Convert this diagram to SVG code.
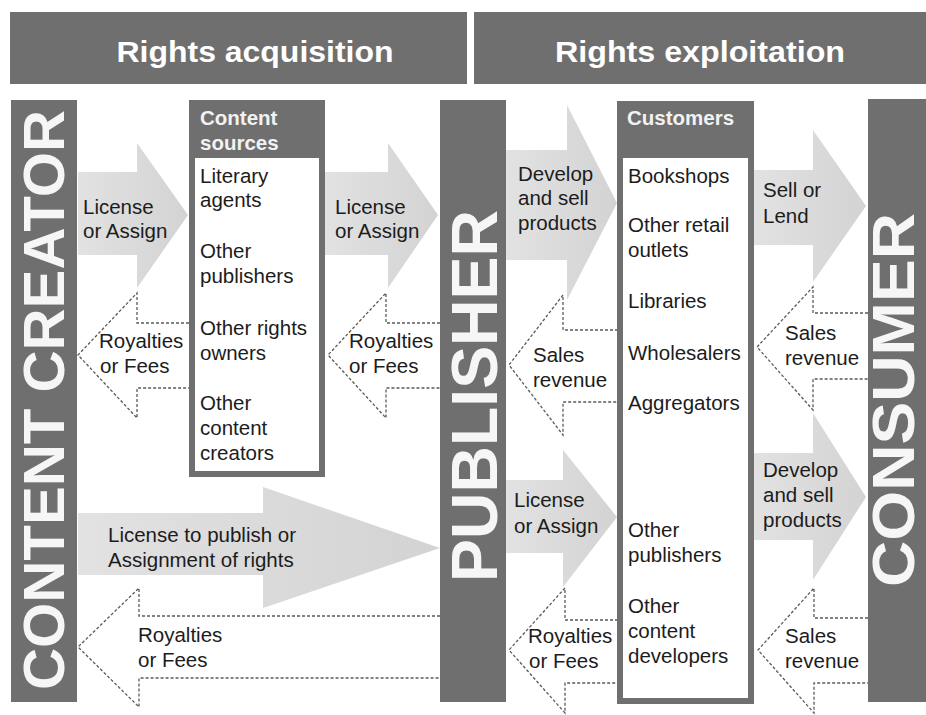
<svg xmlns="http://www.w3.org/2000/svg" width="926" height="715" viewBox="0 0 926 715">
<defs>
<linearGradient id="gr" x1="0" y1="0" x2="1" y2="0">
<stop offset="0" stop-color="#e2e2e2"/>
<stop offset="1" stop-color="#d3d3d3"/>
</linearGradient>
<style>
.bar{fill:#6f6f6f}
.hdr{font-family:"Liberation Sans",Arial,sans-serif;font-weight:bold;fill:#ffffff}
.vt{font-family:"Liberation Sans",Arial,sans-serif;font-weight:bold;fill:#f6f6f6;text-anchor:middle}
.lb{font-family:"Liberation Sans",Arial,sans-serif;font-size:20.5px;fill:#1c1c1c}
.bh{font-family:"Liberation Sans",Arial,sans-serif;font-size:20.5px;font-weight:bold;fill:#f2f2f2}
.ga{fill:url(#gr)}
.da{fill:none;stroke:#5a5a5a;stroke-width:1.3;stroke-dasharray:3 2}
</style>
</defs>
<rect width="926" height="715" fill="#ffffff"/>

<g id="header-acquisition">
<rect class="bar" x="10" y="12" width="457" height="72"/>
<text class="hdr" x="255" y="62" font-size="30" text-anchor="middle" textLength="277" lengthAdjust="spacingAndGlyphs">Rights acquisition</text>
</g>
<g id="header-exploitation">
<rect class="bar" x="474" y="12" width="452" height="72"/>
<text class="hdr" x="700" y="62" font-size="30" text-anchor="middle" textLength="290" lengthAdjust="spacingAndGlyphs">Rights exploitation</text>
</g>

<g id="connectors">
<!-- gray solid arrows -->
<path class="ga" d="M78,172 H137 V143 L188,215 L137,288 V255 H78 Z"/>
<path class="ga" d="M324,172 H388 V143 L438,215 L388,288 V255 H324 Z"/>
<path class="ga" d="M506,150 H567 V105 L617,203 L567,300 V260 H506 Z"/>
<path class="ga" d="M754,170 H813 V130 L866,206 L813,282 V245 H754 Z"/>
<path class="ga" d="M506,480 H563 V450 L617,517 L563,587 V553 H506 Z"/>
<path class="ga" d="M754,453 H813 V413 L866,497 L813,580 V540 H754 Z"/>
<path class="ga" d="M78,513 H263 V487 L440,548 L263,608 V575 H78 Z"/>
<!-- dotted return arrows -->
<path class="da" d="M189,323 H137 V293 L78,355 L137,418 V388 H189"/>
<path class="da" d="M440,323 H386 V293 L328,355 L386,418 V388 H440"/>
<path class="da" d="M618,330 H563 V295 L509,365 L563,435 V402 H618"/>
<path class="da" d="M868,313 H813 V287 L757,347 L813,410 V379 H868"/>
<path class="da" d="M618,620 H565 V588 L509,650 L565,713 V683 H618"/>
<path class="da" d="M868,618 H814 V588 L758,650 L814,713 V683 H868"/>
<path class="da" d="M440,616 H139 V588 L78,647 L139,707 V678 H440"/>
<!-- labels -->
<text class="lb"><tspan x="83" y="214">License</tspan><tspan x="83" y="238">or Assign</tspan></text>
<text class="lb"><tspan x="99" y="348">Royalties</tspan><tspan x="100" y="373">or Fees</tspan></text>
<text class="lb"><tspan x="335" y="214">License</tspan><tspan x="335" y="238">or Assign</tspan></text>
<text class="lb"><tspan x="349" y="348">Royalties</tspan><tspan x="349" y="373">or Fees</tspan></text>
<text class="lb"><tspan x="518" y="181">Develop</tspan><tspan x="518" y="205">and sell</tspan><tspan x="518" y="230">products</tspan></text>
<text class="lb"><tspan x="533" y="362">Sales</tspan><tspan x="533" y="387">revenue</tspan></text>
<text class="lb"><tspan x="763" y="197">Sell or</tspan><tspan x="763" y="223">Lend</tspan></text>
<text class="lb"><tspan x="785" y="340">Sales</tspan><tspan x="785" y="365">revenue</tspan></text>
<text class="lb"><tspan x="514" y="507">License</tspan><tspan x="514" y="533">or Assign</tspan></text>
<text class="lb"><tspan x="528" y="643">Royalties</tspan><tspan x="529" y="668">or Fees</tspan></text>
<text class="lb"><tspan x="763" y="477">Develop</tspan><tspan x="763" y="502">and sell</tspan><tspan x="763" y="527">products</tspan></text>
<text class="lb"><tspan x="785" y="643">Sales</tspan><tspan x="785" y="668">revenue</tspan></text>
<text class="lb"><tspan x="108" y="542">License to publish or</tspan><tspan x="108" y="567">Assignment of rights</tspan></text>
<text class="lb"><tspan x="138" y="642">Royalties</tspan><tspan x="138" y="667">or Fees</tspan></text>
</g>

<g id="content-creator">
<rect class="bar" x="11" y="100" width="66" height="602"/>
<text class="vt" transform="translate(64,400) rotate(-90)" font-size="57" textLength="580" lengthAdjust="spacingAndGlyphs">CONTENT CREATOR</text>
</g>

<g id="publisher">
<rect class="bar" x="440" y="100" width="66" height="602"/>
<text class="vt" transform="translate(497,396) rotate(-90)" font-size="64" textLength="372" lengthAdjust="spacingAndGlyphs">PUBLISHER</text>
</g>

<g id="consumer">
<rect class="bar" x="868" y="99" width="58" height="603"/>
<text class="vt" transform="translate(914,400) rotate(-90)" font-size="60" textLength="374" lengthAdjust="spacingAndGlyphs">CONSUMER</text>
</g>

<g id="content-sources">
<rect class="bar" x="189" y="100" width="136" height="377"/>
<rect x="195" y="158" width="124" height="313" fill="#ffffff"/>
<text class="bh"><tspan x="200" y="125">Content</tspan><tspan x="200" y="150">sources</tspan></text>
<text class="lb"><tspan x="200" y="183">Literary</tspan><tspan x="200" y="207">agents</tspan>
<tspan x="200" y="258">Other</tspan><tspan x="200" y="283">publishers</tspan>
<tspan x="200" y="335">Other rights</tspan><tspan x="200" y="360">owners</tspan>
<tspan x="200" y="410">Other</tspan><tspan x="200" y="435">content</tspan><tspan x="200" y="460">creators</tspan></text>
</g>

<g id="customers">
<rect class="bar" x="617" y="101" width="137" height="603"/>
<rect x="623" y="158" width="125" height="540" fill="#ffffff"/>
<text class="bh"><tspan x="627" y="125">Customers</tspan></text>
<text class="lb"><tspan x="628" y="183">Bookshops</tspan>
<tspan x="628" y="232">Other retail</tspan><tspan x="628" y="257">outlets</tspan>
<tspan x="628" y="308">Libraries</tspan>
<tspan x="628" y="360">Wholesalers</tspan>
<tspan x="628" y="410">Aggregators</tspan>
<tspan x="628" y="537">Other</tspan><tspan x="628" y="562">publishers</tspan>
<tspan x="628" y="613">Other</tspan><tspan x="628" y="638">content</tspan><tspan x="628" y="663">developers</tspan></text>
</g>
</svg>
